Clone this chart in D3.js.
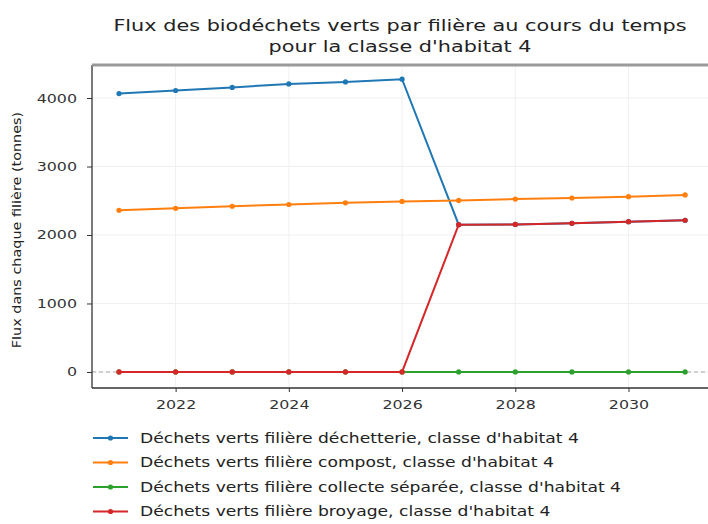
<!DOCTYPE html>
<html>
<head>
<meta charset="utf-8">
<script src="https://cdn.jsdelivr.net/npm/d3@7"></script>
<style>
  body { margin: 0; background: #fff; }
  text { font-family: "DejaVu Sans", sans-serif; fill: #222; }
</style>
</head>
<body>
<script>
// data
var years = [2021, 2022, 2023, 2024, 2025, 2026, 2027, 2028, 2029, 2030, 2031];
var decheterie = [4065, 4110, 4155, 4205, 4235, 4275, 2150, 2155, 2170, 2195, 2215];
var compost = [2360, 2390, 2420, 2445, 2470, 2490, 2505, 2525, 2540, 2560, 2585];
var collecte = [0, 0, 0, 0, 0, 0, 0, 0, 0, 0, 0];
var broyage = [0, 0, 0, 0, 0, 0, 2150, 2155, 2170, 2195, 2215];
var seriesNames = [
    "Déchets verts filière déchetterie, classe d'habitat 4",
    "Déchets verts filière compost, classe d'habitat 4",
    "Déchets verts filière collecte séparée, classe d'habitat 4",
    "Déchets verts filière broyage, classe d'habitat 4"
];
var colors = ["#1f77b4", "#ff7f0e", "#2ca02c", "#d62728"];
var xTicks = [2022, 2024, 2026, 2028, 2030];
var yTicks = [0, 1000, 2000, 3000, 4000];
var titleLines = ["Flux des biodéchets verts par filière au cours du temps", "pour la classe d'habitat 4"];
var yLabel = "Flux dans chaque filière (tonnes)";

var W = 708, H = 524;
var margin = { top: 65, right: -6, bottom: 136, left: 92 };
var width = W - margin.left - margin.right,
    height = H - margin.top - margin.bottom;
var sx = 1.27; // the picture's text is a bit wider than it is tall

var svg = d3.select("body").append("svg")
    .attr("width", W).attr("height", H);

var g = svg.append("g")
    .attr("transform", "translate(" + margin.left + "," + margin.top + ")");

var x = d3.scaleLinear().domain([2020.523, 2031.51]).range([0, width]);
var y = d3.scaleLinear().domain([-234, 4482]).range([height, 0]);

// grid
g.append("g").selectAll("line").data(xTicks).enter().append("line")
    .attr("x1", d => x(d)).attr("x2", d => x(d))
    .attr("y1", 0).attr("y2", height)
    .attr("stroke", "#f0f0f0").attr("stroke-width", 1);
g.append("g").selectAll("line").data(yTicks).enter().append("line")
    .attr("x1", 0).attr("x2", width)
    .attr("y1", d => y(d)).attr("y2", d => y(d))
    .attr("stroke", "#f0f0f0").attr("stroke-width", 1);

// dashed zero line
g.append("line")
    .attr("x1", 0).attr("x2", width)
    .attr("y1", y(0)).attr("y2", y(0))
    .attr("stroke", "#aaa").attr("stroke-dasharray", "4,3").attr("stroke-width", 1);

// axes
var xAxis = g.append("g")
    .attr("transform", "translate(0," + height + ")")
    .call(d3.axisBottom(x).tickValues(xTicks).tickFormat(d3.format("d")).tickSize(4).tickPadding(8));
var yAxis = g.append("g")
    .call(d3.axisLeft(y).tickValues(yTicks).tickFormat(d3.format("d")).tickSize(5).tickPadding(10));
[xAxis, yAxis].forEach(function (a) {
    a.select(".domain").remove();
    a.selectAll("line").attr("stroke", "#333");
    a.selectAll("text").style("font-size", "12.5px").style("fill", "#333")
        .style("font-family", "DejaVu Sans, sans-serif")
        .each(function () {
            var t = d3.select(this);
            var tx = +t.attr("x") || 0;
            t.attr("x", 0).attr("transform", "translate(" + tx + ",0) scale(" + sx + ",1)");
        });
});

// spines
g.append("line").attr("x1", 0).attr("x2", 0).attr("y1", 0).attr("y2", height)
    .attr("stroke", "#333").attr("stroke-width", 1.3);
g.append("line").attr("x1", 0).attr("x2", width).attr("y1", height).attr("y2", height)
    .attr("stroke", "#333").attr("stroke-width", 1.3);
g.append("line").attr("x1", 0).attr("x2", width).attr("y1", 0).attr("y2", 0)
    .attr("stroke", "#9a9a9a").attr("stroke-width", 3);

// series
var allSeries = [decheterie, compost, collecte, broyage];
var line = d3.line().x((d, i) => x(years[i])).y(d => y(d));
allSeries.forEach(function (vals, k) {
    var s = g.append("g");
    s.append("path").datum(vals)
        .attr("fill", "none").attr("stroke", colors[k]).attr("stroke-width", 2)
        .attr("d", line);
    s.selectAll("circle").data(vals).enter().append("circle")
        .attr("cx", (d, i) => x(years[i])).attr("cy", d => y(d))
        .attr("r", 2.6).attr("fill", colors[k]);
});

// title
svg.append("g").selectAll("text").data(titleLines).enter().append("text")
    .attr("transform", (d, i) => "translate(400," + (31 + i * 21) + ") scale(1.3,1)")
    .attr("text-anchor", "middle").style("font-size", "16px")
    .text(d => d);

// y label
svg.append("text")
    .attr("transform", "translate(21,230) rotate(-90) scale(1.2,1)")
    .attr("text-anchor", "middle").style("font-size", "12px")
    .text(yLabel);

// legend
var legend = svg.append("g").attr("transform", "translate(93,438)");
var items = legend.selectAll("g").data(seriesNames).enter().append("g")
    .attr("transform", (d, i) => "translate(0," + i * 24.5 + ")");
items.append("line").attr("x1", 0).attr("x2", 35).attr("y1", 0).attr("y2", 0)
    .attr("stroke", (d, i) => colors[i]).attr("stroke-width", 2);
items.append("circle").attr("cx", 17.5).attr("cy", 0).attr("r", 2.6)
    .attr("fill", (d, i) => colors[i]);
items.append("text")
    .attr("transform", "translate(47,0) scale(" + sx + ",1)")
    .attr("dy", "0.35em")
    .style("font-size", "13.5px").text(d => d);
</script>
</body>
</html>
